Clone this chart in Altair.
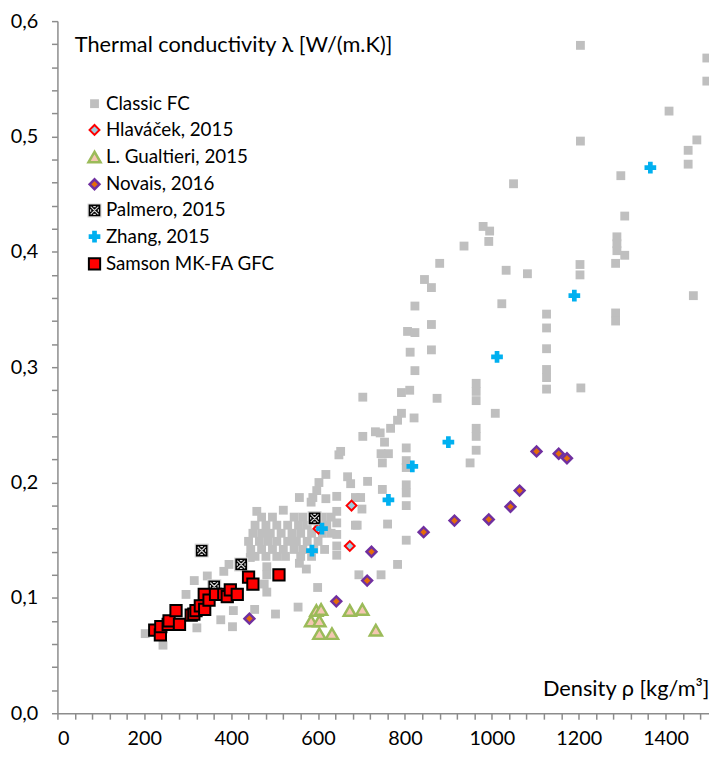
import altair as alt
import pandas as pd

FONT = "Lato"

series_names = ["Classic FC", "Hlaváček, 2015", "L. Gualtieri, 2015", "Novais, 2016",
                "Palmero, 2015", "Zhang, 2015", "Samson MK-FA GFC"]

classic_x = [1204, 1495, 1495, 1408, 1204, 1472, 1452, 1452, 1297, 1306, 1288, 1288, 1288, 1306, 1285,
             1033, 1082, 1203, 1203, 1464, 1023, 1126, 1126, 1285, 1285, 1126, 1126, 1126, 1126, 1205,
             1008, 1050, 980, 995, 993, 936, 880, 845, 861,
             703, 792, 811, 874, 964, 964, 964, 792, 821, 783, 767, 732, 743, 753, 703, 964, 964,
             803, 745, 762, 748, 803, 803, 964, 950, 714, 803, 803, 748, 698, 701, 803, 690, 760,
             803, 783, 694, 745, 823, 861, 806, 823, 812, 861, 823, 648, 652, 618, 602, 597, 668,
             675, 557, 588, 643,
             459, 520, 584, 618, 686, 643, 643, 643, 643, 643, 686, 557, 573, 599, 554, 502, 454,
             405, 403, 376, 321, 296, 315, 345, 383, 395, 444, 482, 482, 476, 482, 243, 202,
             470, 495, 545, 565, 590, 610, 630,
             455, 480, 505, 530, 555, 575, 600, 620,
             450, 470, 490, 515, 540, 560, 585, 610, 630,
             440, 465, 485, 505, 530, 550, 575, 600,
             445, 470, 495, 520, 545, 565, 590, 615,
             455, 480, 505, 525, 560, 585]
classic_y = [0.579, 0.568, 0.548, 0.522, 0.496, 0.497, 0.488, 0.476, 0.466, 0.431, 0.413, 0.407, 0.401, 0.397, 0.390,
             0.384, 0.381, 0.389, 0.380, 0.362, 0.355, 0.346, 0.334, 0.347, 0.340, 0.316, 0.298, 0.291, 0.281, 0.282,
             0.260, 0.459, 0.422, 0.418, 0.409, 0.405, 0.390, 0.376, 0.369,
             0.274, 0.278, 0.280, 0.273, 0.286, 0.279, 0.271, 0.260, 0.256, 0.254, 0.247, 0.244, 0.243, 0.235, 0.240, 0.247, 0.240,
             0.230, 0.225, 0.225, 0.217, 0.219, 0.213, 0.228, 0.217, 0.201, 0.198, 0.191, 0.194, 0.187, 0.177, 0.180, 0.163, 0.164,
             0.150, 0.129, 0.120, 0.120, 0.353, 0.337, 0.331, 0.330, 0.313, 0.315, 0.297, 0.224, 0.227, 0.207, 0.200, 0.193, 0.205,
             0.199, 0.187, 0.187, 0.188,
             0.175, 0.176, 0.183, 0.186, 0.187, 0.175, 0.165, 0.155, 0.145, 0.137, 0.163, 0.130, 0.125, 0.109, 0.092, 0.086, 0.090,
             0.089, 0.075, 0.081, 0.074, 0.103, 0.115, 0.119, 0.123, 0.129, 0.135, 0.127, 0.120, 0.112, 0.105, 0.059, 0.069,
             0.170, 0.170, 0.170, 0.170, 0.170, 0.170, 0.170,
             0.163, 0.163, 0.163, 0.163, 0.163, 0.163, 0.163, 0.163,
             0.156, 0.156, 0.156, 0.156, 0.156, 0.156, 0.156, 0.156, 0.156,
             0.149, 0.149, 0.149, 0.149, 0.149, 0.149, 0.149, 0.149,
             0.142, 0.142, 0.142, 0.142, 0.142, 0.142, 0.142, 0.142,
             0.136, 0.136, 0.136, 0.136, 0.136, 0.136]

hlavacek_x = [601, 673, 677]
hlavacek_y = [0.160, 0.145, 0.180]

gualtieri_x = [596, 607, 584, 603, 603, 632, 673, 702, 733]
gualtieri_y = [0.089, 0.090, 0.080, 0.080, 0.069, 0.069, 0.089, 0.090, 0.072]

novais_x = [442, 642, 713, 723, 843, 914, 993, 1043, 1064, 1103, 1154, 1173]
novais_y = [0.082, 0.097, 0.115, 0.140, 0.157, 0.167, 0.168, 0.179, 0.193, 0.227, 0.225, 0.221]

palmero_x = [332, 361, 423, 592]
palmero_y = [0.141, 0.110, 0.129, 0.169]

zhang_x = [586, 609, 762, 817, 900, 1012, 1190, 1365]
zhang_y = [0.141, 0.160, 0.185, 0.214, 0.235, 0.309, 0.362, 0.473]

samson_x = [224, 237, 238, 255, 257, 273, 281, 308, 314, 319, 329, 338, 339, 349, 364,
            383, 391, 398, 414, 440, 450, 510]
samson_y = [0.072, 0.068, 0.075, 0.077, 0.080, 0.089, 0.077, 0.085, 0.086, 0.089, 0.093, 0.103,
            0.090, 0.098, 0.103, 0.103, 0.101, 0.107, 0.103, 0.118, 0.112, 0.120]

x_tick_values = list(range(0, 1500, 40))
y_tick_values = [round(i * 0.02, 2) for i in range(31)]

palmero_path = "M-1,-1H1V1H-1Z M-0.6,-0.6L0.6,0.6 M0.6,-0.6L-0.6,0.6 M-0.6,-0.2V0.2 M0.6,-0.2V0.2 M-0.2,-0.6H0.2 M-0.2,0.6H0.2"
shapes = ["square", "diamond", "triangle-up", "diamond", palmero_path, "cross", "square"]
fills = ["#BFBFBF", "#9DCDE0", "#F4C7B2", "#E46C0A", "#000000", "#00B0F0", "#FF0000"]
strokes = ["transparent", "#FF0000", "#9BBB59", "#7030A0", "#D9D9D9", "transparent", "#000000"]
stroke_widths = [0, 2, 2.5, 2.5, 1.2, 0, 2]
sizes = [80, 100, 150, 100, 170, 140, 130]

all_series = [classic_x, hlavacek_x, gualtieri_x, novais_x, palmero_x, zhang_x, samson_x]
all_series_y = [classic_y, hlavacek_y, gualtieri_y, novais_y, palmero_y, zhang_y, samson_y]

rows = []
for name, xs, ys in zip(series_names, all_series, all_series_y):
    for xv, yv in zip(xs, ys):
        rows.append({"series": name, "x": xv, "y": yv})
df = pd.DataFrame(rows)
df["idx"] = range(len(df))

legend = alt.Legend(title=None, orient="none", legendX=28, legendY=74, padding=0,
                    labelFont=FONT, labelFontSize=19, labelColor="#000000", labelLimit=400,
                    labelOffset=2, rowPadding=6.5)

x_axis = alt.Axis(values=x_tick_values, grid=False, labelOverlap=False,
                  labelExpr="datum.value % 200 == 0 ? format(datum.value, 'd') : ''",
                  labelFont=FONT, labelFontSize=20, labelColor="#000000", labelPadding=10,
                  domainColor="#8C8C8C", domainWidth=1.5, tickColor="#8C8C8C", tickWidth=1.5,
                  tickSize=6,
                  title="Density ρ [kg/m³]", titleFont=FONT, titleFontSize=22,
                  titleFontWeight="normal", titleColor="#000000",
                  titleX=659, titleY=-25, titleAlign="right", titleBaseline="middle",
                  titleAnchor="end")

y_axis = alt.Axis(values=y_tick_values, grid=False, labelOverlap=False,
                  labelExpr="abs(round(datum.value * 100) % 10) == 0 ? replace(format(datum.value, '.1f'), '.', ',') : ''",
                  labelFont=FONT, labelFontSize=20, labelColor="#000000", labelPadding=14,
                  domainColor="#8C8C8C", domainWidth=1.5, tickColor="#8C8C8C", tickWidth=1.5,
                  tickSize=6,
                  title="Thermal conductivity λ [W/(m.K)]", titleFont=FONT, titleFontSize=22,
                  titleFontWeight="normal", titleColor="#000000",
                  titleAngle=0, titleX=17, titleY=24, titleAlign="left", titleBaseline="middle")

chart = alt.Chart(df).mark_point(filled=True, opacity=1).encode(
    x=alt.X("x:Q", scale=alt.Scale(domain=[0, 1500], nice=False, zero=False), axis=x_axis),
    y=alt.Y("y:Q", scale=alt.Scale(domain=[0, 0.6], nice=False), axis=y_axis),
    shape=alt.Shape("series:N", scale=alt.Scale(domain=series_names, range=shapes), legend=legend),
    fill=alt.Fill("series:N", scale=alt.Scale(domain=series_names, range=fills), legend=legend),
    stroke=alt.Stroke("series:N", scale=alt.Scale(domain=series_names, range=strokes), legend=legend),
    strokeWidth=alt.StrokeWidth("series:N", scale=alt.Scale(type="ordinal", domain=series_names,
                                                            range=stroke_widths), legend=legend),
    size=alt.Size("series:N", scale=alt.Scale(type="ordinal", domain=series_names, range=sizes),
                  legend=legend),
    order=alt.Order("idx:Q"),
).properties(
    width=659, height=700,
    autosize=alt.AutoSizeParams(type="none"),
    padding={"left": 50, "top": 9, "right": 0, "bottom": 40},
    background="white",
).configure_view(stroke=None)

chart.save("out.html", embed_options={"renderer": "svg", "actions": False})
